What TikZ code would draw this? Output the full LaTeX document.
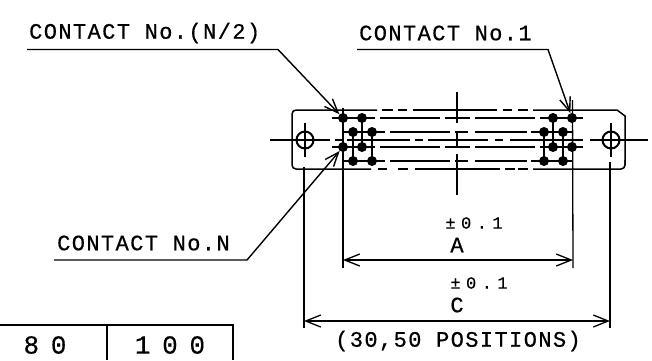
\documentclass[tikz,border=0pt]{standalone}
\usepackage{fontspec}
\setmainfont[LetterSpace=6.4, FakeBold=0.6]{Liberation Mono}
\newfontfamily\tolfont[LetterSpace=32, FakeBold=0.6]{Liberation Mono}
\newfontfamily\cellfont[LetterSpace=45, FakeBold=0.3]{Liberation Mono}
\usetikzlibrary{arrows.meta}
\tikzset{
  part/.style={line width=1.5pt},
  thin part/.style={line width=1.3pt},
  row/.style={line width=1.3pt, shorten <=-16pt, shorten >=-16pt},
  row odd/.style={row, dash pattern=on 43pt off 5pt on 60pt off 5pt on 25pt off 5pt on 60pt off 5pt on 60pt off 5pt},
  row even/.style={row, shorten >=-15pt, dash pattern=on 43pt off 5pt on 60pt off 5pt on 13pt off 7pt on 52pt off 4pt on 60pt off 5pt},
  center/.style={line width=1.3pt, dash pattern=on 60pt off 5pt on 7pt off 5pt on 63pt off 5pt on 8pt off 5pt on 60pt off 7pt on 8pt off 7pt on 73pt off 7pt on 70pt off 5pt},
  dim/.style={line width=1.3pt, {Straight Barb[length=15pt,width=12pt]}-{Straight Barb[length=15pt,width=12pt]}},
  leader/.style={line width=1.4pt, -{Straight Barb[length=14pt,width=11pt]}},
  dot/.style={circle, fill=black, inner sep=0pt, minimum size=10pt},
  hole/.style={circle, draw, line width=2pt, inner sep=0pt, minimum size=17pt},
  label/.style={inner sep=0pt, font=\fontsize{22}{22}\selectfont},
  tol label/.style={inner sep=0pt, font=\tolfont\fontsize{17}{17}\selectfont},
  cell label/.style={inner sep=0pt, font=\cellfont\fontsize{26}{26}\selectfont}
}
\begin{document}
\begin{tikzpicture}[x=1pt, y=-1pt]
      \useasboundingbox (0, 0) rectangle (652, 360);

      % body
      \draw[part, rounded corners=4pt] (377, 110) -- (292, 110) -- (292, 169) -- (371, 169);
      \draw[part] (533, 110) -- (617, 110) -- (625, 116) -- (625, 165);
      \draw[part, rounded corners=4pt] (625, 160) -- (625, 169) -- (533, 169);
      \draw[part, dash pattern=on 11pt off 5pt on 9pt off 6pt on 84pt off 6pt on 9pt off 6pt on 10pt off 5pt] (382, 110) -- (528, 110);
      \draw[part, dash pattern=on 9pt off 11pt on 10pt off 7pt on 85pt off 5pt on 10pt off 3pt on 10pt off 5pt] (378, 169) -- (528, 169);

      % contacts
      \foreach \name/\x/\y in {a/343/118, b/362/118, c/353/132, d/372/132, e/343/147, f/362/147, g/353/161, h/372/161,
                               i/553/118, j/572/118, k/544/132, l/563/132, m/553/147, n/572/147, o/544/161, p/563/161} {
        \node[dot] (\name) at (\x, \y) {};
      }
      \draw[row odd] (a) -- (j);
      \draw[row even] (c) -- (l);
      \draw[row odd] (e) -- (n);
      \draw[row even] (g) -- (p);
      \foreach \top/\bottom in {b/f, c/g, d/h, i/m, k/o, l/p} {
        \draw[thin part, shorten <=-5pt, shorten >=-6pt] (\top) -- (\bottom);
      }

      % holes
      \node[hole] (hole1) at (305, 140) {};
      \node[hole] (hole2) at (611, 140) {};
      \coordinate (lineW) at (270, 140);
      \coordinate (lineE) at (648, 140);
      \draw[center] (lineW) -- (lineE);
      \draw[thin part] (305, 123) -- (305, 157);
      \draw[thin part] (611, 123) -- (611, 157);

      % middle line
      \draw[thin part] (457, 92) -- (457, 123);
      \draw[thin part] (457, 133) -- (457, 146);
      \draw[thin part] (457, 154) -- (457, 195);

      % extension lines
      \coordinate (extA) at (343, 268);
      \coordinate (extB) at (573, 268);
      \coordinate (extC) at (304, 328);
      \coordinate (extD) at (610, 328);
      \draw[thin part] (343, 108) -- (extA);
      \draw[thin part] (572.5, 100) -- (extB);
      \draw[thin part] (304, 167) -- (extC);
      \draw[thin part] (610, 162) -- (extD);

      % dimensions
      \coordinate (dimA1) at (343, 260);
      \coordinate (dimA2) at (573, 260);
      \coordinate (dimC1) at (304, 321);
      \coordinate (dimC2) at (610, 321);
      \draw[dim] (dimA1) -- (dimA2);
      \draw[dim] (dimC1) -- (dimC2);
      \node[tol label] (tolA) at (474, 223) {±0.1};
      \node[label] (nameA) at (457, 245) {A};
      \node[tol label] (tolC) at (479, 283) {±0.1};
      \node[label] (nameC) at (457, 305) {C};
      \node[label] (positions) at (458, 341) {(30,50 POSITIONS)};

      % leaders
      \node[label, anchor=west] (half) at (29, 33) {CONTACT No.(N/2)};
      \node[label, anchor=west] (first) at (359, 33) {CONTACT No.1};
      \node[label, anchor=west] (last) at (57, 243) {CONTACT No.N};
      \coordinate (halfS) at (27, 49.5);
      \coordinate (halfK) at (278, 49.5);
      \coordinate (firstS) at (357, 49.5);
      \coordinate (firstK) at (548, 49.5);
      \coordinate (lastS) at (54, 260);
      \coordinate (lastK) at (247, 260);
      \draw[leader] (halfS) -- (halfK) -- (a);
      \draw[leader] (firstS) -- (firstK) -- (j);
      \draw[leader] (lastS) -- (lastK) -- (e);

      % table
      \coordinate (tabW) at (0, 325);
      \coordinate (tabE) at (233, 325);
      \coordinate (tabSE) at (233, 360);
      \coordinate (tabM) at (107, 325);
      \coordinate (tabSM) at (107, 360);
      \draw[thin part] (tabW) -- (tabE) -- (tabSE);
      \draw[thin part] (tabM) -- (tabSM);
      \node[cell label] (cell1) at (45, 345) {80};
      \node[cell label] (cell2) at (170, 345) {100};
    \end{tikzpicture}
\end{document}
